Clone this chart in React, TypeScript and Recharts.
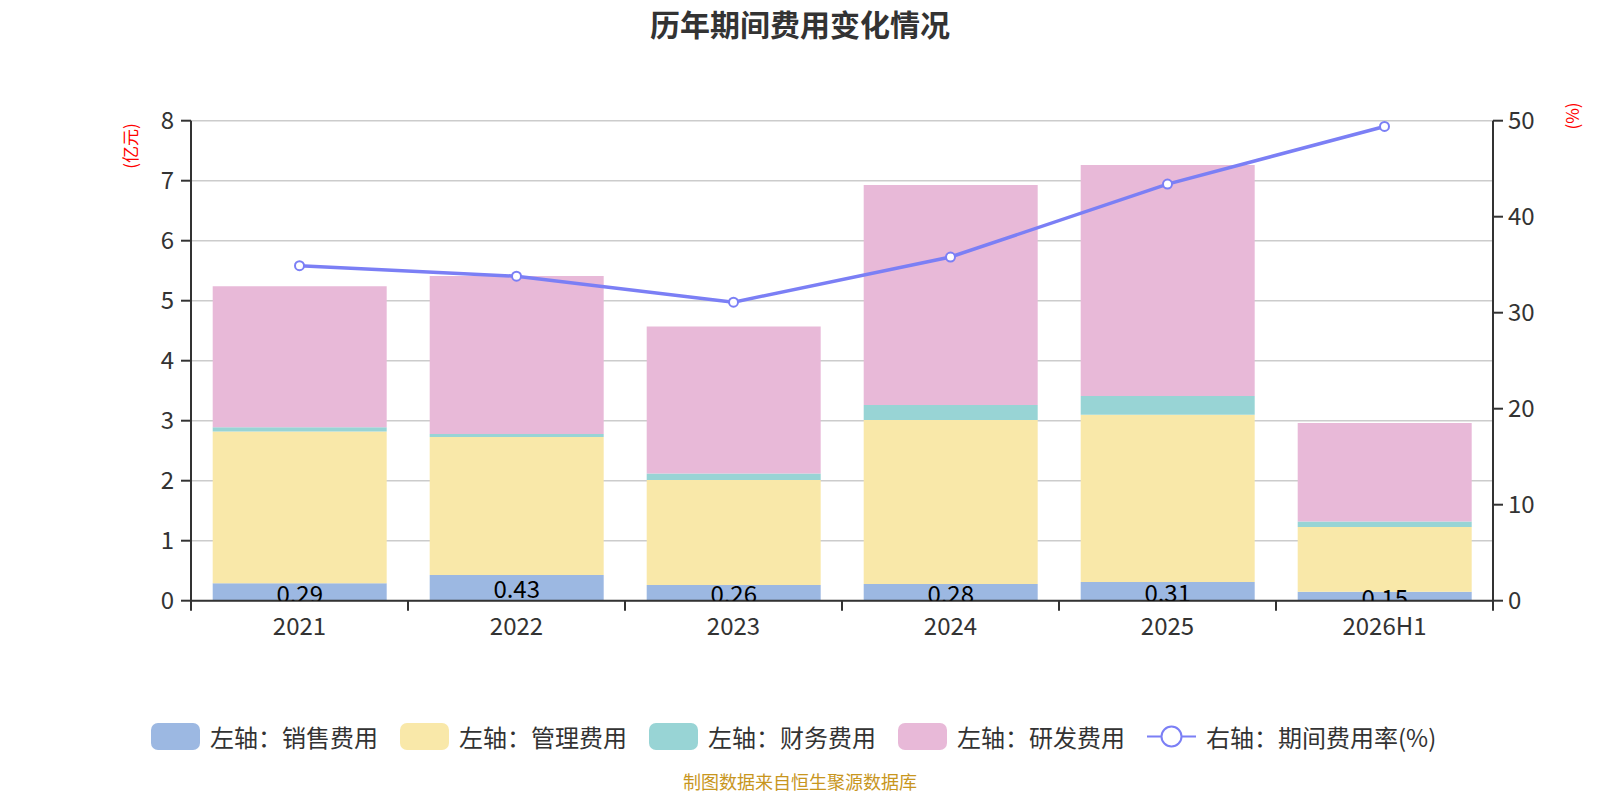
import {
  Bar,
  CartesianGrid,
  ComposedChart,
  LabelList,
  Line,
  XAxis,
  YAxis
} from 'recharts';

const years = ['2021', '2022', '2023', '2024', '2025', '2026H1'];
const salesCost = [0.29, 0.43, 0.26, 0.28, 0.31, 0.15];
const adminCost = [2.53, 2.3, 1.75, 2.73, 2.79, 1.08];
const financeCost = [0.07, 0.05, 0.11, 0.25, 0.31, 0.09];
const rdCost = [2.35, 2.63, 2.45, 3.67, 3.85, 1.64];
const expenseRate = [34.9, 33.8, 31.1, 35.8, 43.4, 49.4];

const leftTicks = [0, 1, 2, 3, 4, 5, 6, 7, 8];
const rightTicks = [0, 10, 20, 30, 40, 50];

const seriesNames = ['左轴：销售费用', '左轴：管理费用', '左轴：财务费用', '左轴：研发费用'];
const lineName = '右轴：期间费用率(%)';
const colors = ['#9cb8e2', '#f9e8a9', '#98d4d5', '#e8b9d8'];
const lineColor = '#7b7ff5';

const FONT = '"Noto Sans CJK SC", "Noto Sans", sans-serif';

const W = 1600;
const H = 800;
const margin = { top: 120.7, right: 37, bottom: 159.3, left: 121 };
const axisW = 70;
const plotW = W - margin.left - margin.right - axisW * 2;
const band = plotW / years.length;

const data = years.map((year, i) => ({
  year,
  sales: salesCost[i],
  admin: adminCost[i],
  finance: financeCost[i],
  rd: rdCost[i],
  rate: expenseRate[i]
}));

const XTick = (props: any) => {
  const { x, y, payload, index } = props;
  return (
    <g>
      <line x1={x - band / 2} x2={x - band / 2} y1={y} y2={y + 10} stroke="#333" strokeWidth={2} />
      {index === years.length - 1 && (
        <line x1={x + band / 2} x2={x + band / 2} y1={y} y2={y + 10} stroke="#333" strokeWidth={2} />
      )}
      <text x={x} y={y + 24} textAnchor="middle" dominantBaseline="central" fill="#333" fontSize={24}>
        {payload.value}
      </text>
    </g>
  );
};

// label sits in the middle of the sales segment, cut off at the bar's base
const SalesLabel = (props: any) => {
  const { x, y, width, height, value, index } = props;
  const id = `sales-clip-${index}`;
  return (
    <g>
      <defs>
        <clipPath id={id}>
          <rect x={x - 20} y={y - 40} width={width + 40} height={height + 40} />
        </clipPath>
      </defs>
      <text
        clipPath={`url(#${id})`}
        x={x + width / 2}
        y={y + height / 2}
        textAnchor="middle"
        dominantBaseline="central"
        fontSize={24}
        fill="#000"
      >
        {value}
      </text>
    </g>
  );
};

const Legend = () => (
  <div
    style={{
      position: 'absolute',
      left: 151,
      top: 719,
      display: 'flex',
      alignItems: 'center',
      fontSize: 24,
      color: '#333',
      whiteSpace: 'nowrap'
    }}
  >
    {seriesNames.map((name, i) => (
      <div key={name} style={{ display: 'flex', alignItems: 'center', marginRight: 22 }}>
        <div style={{ width: 49, height: 27, borderRadius: 7, background: colors[i], marginRight: 10 }} />
        <span>{name}</span>
      </div>
    ))}
    <div style={{ display: 'flex', alignItems: 'center' }}>
      <svg width={49} height={27} style={{ marginRight: 10 }}>
        <line x1={0} x2={49} y1={13.5} y2={13.5} stroke={lineColor} strokeWidth={2} />
        <circle cx={24.5} cy={13.5} r={10} fill="#fff" stroke={lineColor} strokeWidth={2} />
      </svg>
      <span>{lineName}</span>
    </div>
  </div>
);

export default function App() {
  return (
    <div style={{ position: 'relative', width: W, height: H, margin: -8, fontFamily: FONT, background: '#fff', overflow: 'hidden' }}>
      <div
        style={{
          position: 'absolute',
          left: 0,
          width: W,
          top: 4,
          textAlign: 'center',
          fontSize: 30,
          fontWeight: 'bold',
          color: '#333',
          lineHeight: '38px'
        }}
      >
        历年期间费用变化情况
      </div>
      <div
        style={{
          position: 'absolute',
          left: 129,
          top: 146,
          transform: 'translate(-50%, -50%) rotate(-90deg)',
          color: '#ff0000',
          fontSize: 17,
          whiteSpace: 'nowrap'
        }}
      >
        (亿元)
      </div>
      <div
        style={{
          position: 'absolute',
          left: 1571,
          top: 116,
          transform: 'translate(-50%, -50%) rotate(-90deg)',
          color: '#ff0000',
          fontSize: 17,
          whiteSpace: 'nowrap'
        }}
      >
        (%)
      </div>
      <div style={{ position: 'absolute', left: 0, top: 0 }}>
        <ComposedChart width={W} height={H} data={data} margin={margin} barCategoryGap="10%">
          <CartesianGrid yAxisId="left" vertical={false} stroke="#ccc" strokeWidth={1.5} />
          <XAxis
            dataKey="year"
            height={40}
            axisLine={{ stroke: '#333', strokeWidth: 2 }}
            tickLine={false}
            tickSize={0}
            tickMargin={0}
            interval={0}
            tick={(p: any) => <XTick {...p} />}
          />
          <YAxis
            yAxisId="left"
            width={axisW}
            domain={[0, 8]}
            ticks={leftTicks}
            axisLine={{ stroke: '#333', strokeWidth: 2 }}
            tickLine={{ stroke: '#333', strokeWidth: 2 }}
            tickSize={10}
            tickMargin={7}
            tick={{ fill: '#333', fontSize: 24 }}
          />
          <YAxis
            yAxisId="right"
            orientation="right"
            width={axisW}
            domain={[0, 50]}
            ticks={rightTicks}
            axisLine={{ stroke: '#333', strokeWidth: 2 }}
            tickLine={{ stroke: '#333', strokeWidth: 2 }}
            tickSize={10}
            tickMargin={5}
            tick={{ fill: '#333', fontSize: 24 }}
          />
          <Bar yAxisId="left" dataKey="sales" stackId="a" fill={colors[0]} isAnimationActive={false}>
            <LabelList dataKey="sales" content={(p: any) => <SalesLabel {...p} />} />
          </Bar>
          <Bar yAxisId="left" dataKey="admin" stackId="a" fill={colors[1]} isAnimationActive={false} />
          <Bar yAxisId="left" dataKey="finance" stackId="a" fill={colors[2]} isAnimationActive={false} />
          <Bar yAxisId="left" dataKey="rd" stackId="a" fill={colors[3]} isAnimationActive={false} />
          <Line
            yAxisId="right"
            dataKey="rate"
            type="linear"
            stroke={lineColor}
            strokeWidth={3.5}
            dot={{ r: 4.5, fill: '#fff', stroke: lineColor, strokeWidth: 2 }}
            isAnimationActive={false}
          />
        </ComposedChart>
      </div>
      <Legend />
      <div
        style={{
          position: 'absolute',
          left: 0,
          width: W,
          top: 770,
          textAlign: 'center',
          fontSize: 18,
          color: '#c8961e',
          lineHeight: '22px'
        }}
      >
        制图数据来自恒生聚源数据库
      </div>
    </div>
  );
}
